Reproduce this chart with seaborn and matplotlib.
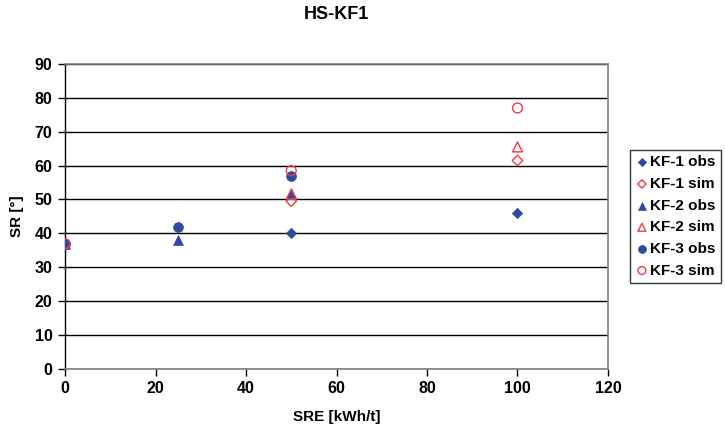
import matplotlib
matplotlib.use("Agg")
import matplotlib.pyplot as plt
import seaborn as sns
import pandas as pd

# Data
kf1_obs_x = [0, 50, 100]
kf1_obs_y = [37, 40, 46]
kf1_sim_x = [0, 50, 100]
kf1_sim_y = [37, 49.5, 61.5]
kf2_obs_x = [0, 25, 50]
kf2_obs_y = [37, 38, 52]
kf2_sim_x = [0, 50, 100]
kf2_sim_y = [37, 51.5, 65.5]
kf3_obs_x = [0, 25, 50]
kf3_obs_y = [37, 42, 57]
kf3_sim_x = [0, 50, 100]
kf3_sim_y = [37, 58.5, 77]

series = [
    ("KF-1 obs", kf1_obs_x, kf1_obs_y),
    ("KF-1 sim", kf1_sim_x, kf1_sim_y),
    ("KF-2 obs", kf2_obs_x, kf2_obs_y),
    ("KF-2 sim", kf2_sim_x, kf2_sim_y),
    ("KF-3 obs", kf3_obs_x, kf3_obs_y),
    ("KF-3 sim", kf3_sim_x, kf3_sim_y),
]

blue = "#2D4B9E"
red = "#F03A3F"
styles = {
    "KF-1 obs": dict(marker="D", s=28, color=blue, edgecolor=blue, linewidth=0.5),
    "KF-1 sim": dict(marker="D", s=28, facecolor="none", edgecolor=red, linewidth=1.0),
    "KF-2 obs": dict(marker="^", s=50, color=blue, edgecolor=blue, linewidth=0.5),
    "KF-2 sim": dict(marker="^", s=50, facecolor="none", edgecolor=red, linewidth=1.0),
    "KF-3 obs": dict(marker="o", s=50, color=blue, edgecolor=blue, linewidth=0.5),
    "KF-3 sim": dict(marker="o", s=50, facecolor="none", edgecolor=red, linewidth=1.0),
}

sns.set_style("white")
plt.rcParams["font.family"] = ["Liberation Sans", "DejaVu Sans"]
plt.rcParams["font.weight"] = "bold"
plt.rcParams["text.color"] = "black"
plt.rcParams["axes.labelcolor"] = "black"
plt.rcParams["xtick.color"] = "black"
plt.rcParams["ytick.color"] = "black"

fig = plt.figure(figsize=(7.25, 4.32), dpi=100)
ax = fig.add_axes([0.0897, 0.146, 0.7489, 0.706])

for name, xs, ys in series:
    df = pd.DataFrame({"x": xs, "y": ys})
    sns.scatterplot(data=df, x="x", y="y", ax=ax, label=name, zorder=3, **styles[name])

ax.set_xlim(0, 120)
ax.set_ylim(0, 90)
ax.set_xticks(range(0, 121, 20))
ax.set_yticks(range(0, 91, 10))
ax.yaxis.grid(True, color="black", linewidth=1.0)
ax.xaxis.grid(False)
ax.set_axisbelow(True)

for side in ["top", "right"]:
    ax.spines[side].set_color("#808080")
    ax.spines[side].set_linewidth(1.2)
ax.spines["left"].set_color("black")
ax.spines["left"].set_linewidth(1.0)
ax.spines["bottom"].set_color("#808080")
ax.spines["bottom"].set_linewidth(1.2)

ax.tick_params(axis="both", direction="out", length=5, width=1, color="black",
               labelsize=11.5, pad=4, bottom=True, left=True, labelcolor="black")
for lab in ax.get_xticklabels() + ax.get_yticklabels():
    lab.set_fontweight("bold")

ax.set_xlabel("SRE [kWh/t]", fontsize=11, fontweight="bold", labelpad=10, color="black")
ax.set_ylabel("SR [°]", fontsize=11, fontweight="bold", labelpad=8, color="black")
ax.set_title("HS-KF1", fontsize=13, fontweight="bold", pad=32, color="black")

leg = ax.legend(loc="center left", bbox_to_anchor=(1.04, 0.5), frameon=True,
                fancybox=False, edgecolor="black", fontsize=11,
                handletextpad=0.1, borderpad=0.35, labelspacing=0.5,
                handlelength=0.9, borderaxespad=0, markerscale=0.8)
leg.get_frame().set_linewidth(1.0)
for t in leg.get_texts():
    t.set_fontweight("bold")
    t.set_color("black")

fig.savefig("out.png", dpi=100)
